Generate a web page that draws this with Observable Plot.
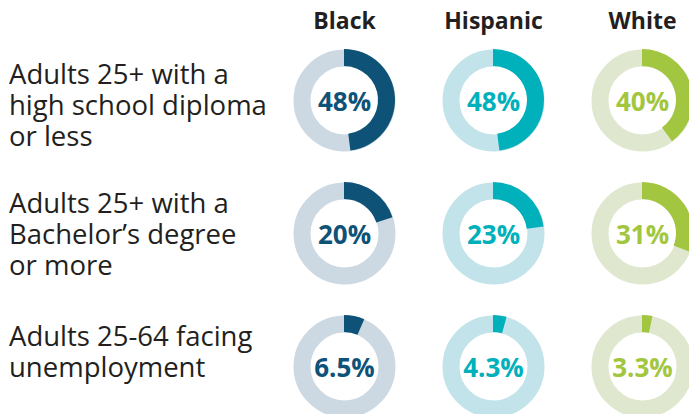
<!DOCTYPE html>
<html>
<head>
<meta charset="utf-8">
<script src="https://cdn.jsdelivr.net/npm/d3@7"></script>
<script src="https://cdn.jsdelivr.net/npm/@observablehq/plot@0.6"></script>
<style>
  html, body { margin: 0; padding: 0; background: #fff; overflow: hidden; }
  #chart { width: 689px; height: 414px; overflow: hidden; }
</style>
</head>
<body>
<div id="chart"></div>
<script>
// ---- data ----
const groups = ["Black", "Hispanic", "White"];
const measureIds = ["hs", "ba", "unemp"];
const measureLabels = [
  "Adults 25+ with a\nhigh school diploma\nor less",
  "Adults 25+ with a\nBachelor\u2019s degree\nor more",
  "Adults 25-64 facing\nunemployment"
];
const blackValues = [48, 20, 6.5];
const hispanicValues = [48, 23, 4.3];
const whiteValues = [40, 31, 3.3];
const valueLabels = {
  Black: ["48%", "20%", "6.5%"],
  Hispanic: ["48%", "23%", "4.3%"],
  White: ["40%", "31%", "3.3%"]
};
const darkColors = ["#0e5278", "#00b0bb", "#a2c640"];
const lightColors = ["#ccd9e3", "#c1e3e9", "#dfe8cf"];

// ---- table built from the arrays ----
const seriesByGroup = {Black: blackValues, Hispanic: hispanicValues, White: whiteValues};
const cells = groups.flatMap((g, gi) =>
  measureIds.map((m, mi) => ({
    group: g,
    measure: m,
    value: seriesByGroup[g][mi],
    label: valueLabels[g][mi],
    dark: darkColors[gi],
    light: lightColors[gi]
  }))
);
const measures = measureIds.map((id, i) => ({id, label: measureLabels[i]}));

const FONT = "'Open Sans', 'Noto Sans', sans-serif";
const R_OUT = 51, R_IN = 34;

// custom arc mark drawn through the plot's x/y scales
function arcs(index, scales) {
  const arc = d3.arc().innerRadius(R_IN).outerRadius(R_OUT);
  const g = d3.create("svg:g");
  g.selectAll("path")
    .data(cells)
    .join("path")
    .attr("transform", d => `translate(${scales.x(d.group)},${scales.y(d.measure)})`)
    .attr("d", d => arc({startAngle: 0, endAngle: d.value / 100 * 2 * Math.PI}))
    .attr("fill", d => d.dark);
  return g.node();
}

const labelStyle = {
  y: "id",
  text: "label",
  frameAnchor: "left",
  textAnchor: "start",
  lineAnchor: "top",
  dx: 8.5,
  lineHeight: 1.13,
  fontSize: 27.5,
  fontFamily: FONT,
  fill: "#231f20"
};

const chart = Plot.plot({
  width: 689,
  height: 414,
  margin: 0,
  x: {type: "point", domain: groups, range: [343.5, 641.5], padding: 0, axis: null},
  y: {type: "point", domain: measureIds, range: [99, 366], padding: 0, axis: null},
  marks: [
    // background rings
    Plot.dot(cells, {
      x: "group", y: "measure",
      r: (R_OUT + R_IN) / 2,
      stroke: d => d.light,
      strokeWidth: R_OUT - R_IN,
      fill: "none"
    }),
    // value arcs
    arcs,
    // percent labels
    Plot.text(cells, {
      x: "group", y: "measure",
      text: "label",
      fill: d => d.dark,
      fontSize: 26,
      fontWeight: 700,
      fontFamily: FONT,
      dy: 2.5
    }),
    // column headers
    Plot.text(groups, {
      x: d => d,
      frameAnchor: "top",
      lineAnchor: "top",
      dy: 12,
      text: d => d,
      fontSize: 23,
      fontWeight: 700,
      fontFamily: FONT,
      fill: "#231f20"
    }),
    // row labels
    Plot.text(measures, {...labelStyle, filter: (d, i) => i === 0, dy: -39}),
    Plot.text(measures, {...labelStyle, filter: (d, i) => i > 0, dy: -43})
  ]
});

document.getElementById("chart").append(chart);
</script>
</body>
</html>
